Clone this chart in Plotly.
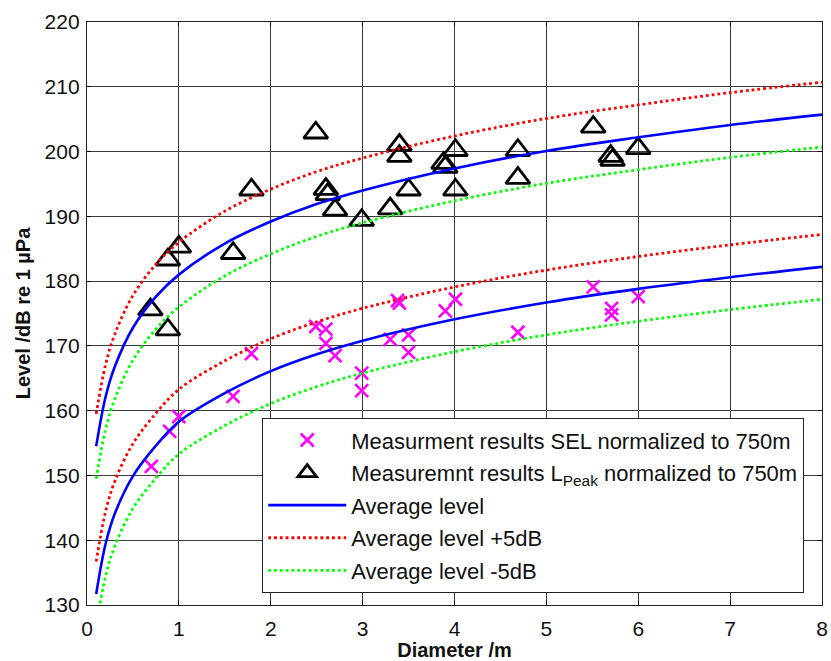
import plotly.graph_objects as go

# ---------------- data ----------------
sel_x = [0.70, 0.90, 1.00, 1.59, 1.79, 2.49, 2.60, 2.60, 2.70, 2.99, 2.99, 3.30, 3.38, 3.40,
         3.50, 3.50, 3.90, 4.01, 4.69, 5.51, 5.71, 5.71, 6.00]
sel_y = [151.4, 156.8, 159.1, 162.2, 168.8, 173.0, 172.6, 170.4, 168.5, 165.8, 163.1, 171.0, 177.0, 176.6,
         171.7, 169.0, 175.4, 177.2, 172.1, 179.1, 175.8, 174.8, 177.6]

peak_x = [0.69, 0.88, 0.88, 1.00, 1.59, 1.79, 2.49, 2.60, 2.62, 2.70, 2.99, 3.30, 3.40, 3.40,
          3.50, 3.88, 3.90, 4.01, 4.01, 4.69, 4.69, 5.51, 5.70, 5.72, 6.00]
peak_y = [175.6, 172.5, 183.3, 185.3, 184.3, 194.1, 202.9, 194.2, 193.4, 191.0, 189.4, 191.2, 201.0, 199.3,
          194.1, 198.2, 197.6, 200.2, 194.1, 200.2, 195.9, 203.8, 199.3, 198.7, 200.5]

curve_x = [0.1, 0.2, 0.3, 0.5, 0.75, 1.0, 1.5, 2.0, 2.5, 3.0, 4.0, 5.0, 6.0, 7.0, 8.0]

peak_avg = [154.5, 162.0, 166.7, 172.8, 177.6, 181.0, 185.8, 189.2, 191.9, 194.0, 197.4, 200.1, 202.2, 204.1, 205.7]
peak_plus = [159.5, 167.0, 171.7, 177.8, 182.6, 186.0, 190.8, 194.2, 196.9, 199.0, 202.4, 205.1, 207.2, 209.1, 210.7]
peak_minus = [149.5, 157.0, 161.7, 167.8, 172.6, 176.0, 180.8, 184.2, 186.9, 189.0, 192.4, 195.1, 197.2, 199.1, 200.7]

sel_avg = [131.7, 139.3, 144.0, 149.9, 154.6, 158.3, 162.7, 166.1, 168.7, 170.8, 174.1, 176.7, 178.8, 180.6, 182.2]
sel_plus = [136.7, 144.3, 149.0, 154.9, 159.6, 163.3, 167.7, 171.1, 173.7, 175.8, 179.1, 181.7, 183.8, 185.6, 187.2]
sel_minus = [126.7, 134.3, 139.0, 144.9, 149.6, 153.3, 157.7, 161.1, 163.7, 165.8, 169.1, 171.7, 173.8, 175.6, 177.2]

x_ticks = [0, 1, 2, 3, 4, 5, 6, 7, 8]
y_ticks = [130, 140, 150, 160, 170, 180, 190, 200, 210, 220]

FONT = "Liberation Sans, Arial, sans-serif"
BLUE = "#0000ff"
RED = "#ff0000"
GREEN = "#00ff00"
MAGENTA = "#ff00ff"

fig = go.Figure()

fig.add_trace(go.Scatter(
    x=sel_x, y=sel_y, mode="markers", name="Measurment results SEL normalized to 750m",
    legendgroup="a", legendrank=1,
    marker=dict(symbol="x-thin-open", size=13, color=MAGENTA, line=dict(color=MAGENTA, width=2.6)),
))
fig.add_trace(go.Scatter(
    x=peak_x, y=peak_y, mode="markers",
    name="Measuremnt results L<sub>Peak</sub> normalized to 750m",
    legendgroup="b", legendrank=2,
    marker=dict(symbol="triangle-up-open", size=21, color="black", line=dict(color="black", width=2.8)),
))

for ys, show in [(peak_avg, True), (sel_avg, False)]:
    fig.add_trace(go.Scatter(
        x=curve_x, y=ys, mode="lines", name="Average level", legendgroup="c", legendrank=3,
        showlegend=show, line=dict(color=BLUE, width=2.6, shape="spline"),
    ))
for ys, show in [(peak_plus, True), (sel_plus, False)]:
    fig.add_trace(go.Scatter(
        x=curve_x, y=ys, mode="lines", name="Average level +5dB", legendgroup="d", legendrank=4,
        showlegend=show, line=dict(color=RED, width=2.8, dash="2.8px,3px", shape="spline"),
    ))
for ys, show in [(peak_minus, True), (sel_minus, False)]:
    fig.add_trace(go.Scatter(
        x=curve_x, y=ys, mode="lines", name="Average level -5dB", legendgroup="e", legendrank=5,
        showlegend=show, line=dict(color=GREEN, width=2.8, dash="2.8px,3px", shape="spline"),
    ))

axis_common = dict(
    showgrid=True, gridcolor="#3c3c3c", gridwidth=1.3,
    showline=True, linecolor="#222222", linewidth=1.3, mirror="allticks",
    ticks="inside", ticklen=4, tickcolor="black", tickwidth=1.3,
    zeroline=False, automargin=False,
    tickfont=dict(family=FONT, size=21, color="#111111"),
)

fig.update_layout(
    width=831, height=661,
    margin=dict(l=87, r=9, t=22, b=56),
    paper_bgcolor="white", plot_bgcolor="white",
    font=dict(family=FONT, color="#111111"),
    xaxis=dict(range=[0, 8], tickvals=x_ticks, ticktext=[str(v) for v in x_ticks],
               title=dict(text="<b>Diameter /m</b>", font=dict(family=FONT, size=20), standoff=6),
               ticklabelstandoff=5, **axis_common),
    yaxis=dict(range=[130, 220], tickvals=y_ticks, ticktext=[str(v) for v in y_ticks],
               title=dict(text="<b>Level /dB re 1 µPa</b>", font=dict(family=FONT, size=20), standoff=8),
               ticklabelstandoff=2, **axis_common),
    legend=dict(x=0.238, y=0.321, xanchor="left", yanchor="top",
                bgcolor="white", bordercolor="#222222", borderwidth=1.3,
                font=dict(family=FONT, size=22, color="#111111"),
                traceorder="grouped", tracegroupgap=1, itemwidth=78),
    showlegend=True,
)

fig.write_html("out.html")
